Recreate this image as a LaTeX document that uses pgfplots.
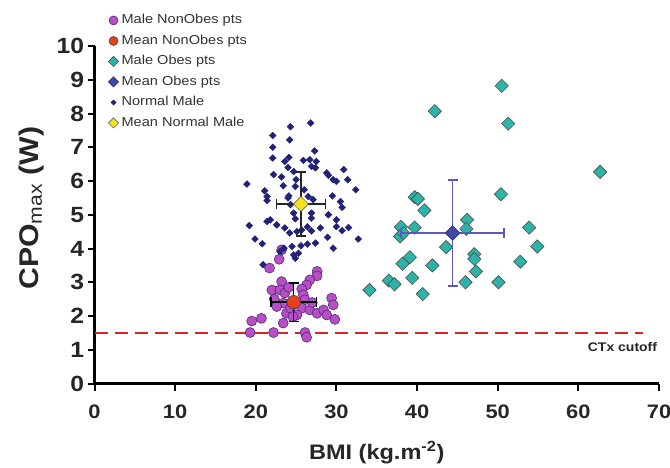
\documentclass[border=0pt]{standalone}
\usepackage{fontspec}
\setmainfont{Liberation Sans}[FakeStretch=1.12]
\usepackage{pgfplots}
\pgfplotsset{compat=1.18}
\definecolor{cpurple}{HTML}{B84EC2}
\definecolor{cpurpleedge}{HTML}{4E2A86}
\definecolor{cred}{HTML}{E8401E}
\definecolor{cteal}{HTML}{2DB4A8}
\definecolor{cblue}{HTML}{3F48A6}
\definecolor{cnavy}{HTML}{22227A}
\definecolor{cyellow}{HTML}{F6E21C}
\definecolor{cerr}{HTML}{5B5BB5}
\definecolor{cdash}{HTML}{E02424}
\definecolor{ctext}{HTML}{333333}
\begin{document}
\begin{tikzpicture}
\begin{axis}[
  at={(94.5pt,83.5pt)}, anchor=south west,
  scale only axis, width=564.5pt, height=337.5pt,
  xmin=0, xmax=70, ymin=0, ymax=10,
  axis lines*=left,
  axis line style={line width=2.5pt},
  tick align=outside, major tick length=7pt,
  tick style={line width=2pt, black},
  xtick={0,10,...,70}, ytick={0,1,...,10},
  /pgf/number format/assume math mode=true,
  xticklabel style={font=\bfseries\fontsize{19.5}{19.5}\selectfont, text=black!85, yshift=-11pt},
  yticklabel style={font=\bfseries\fontsize{22}{22}\selectfont, text=black!85},
  clip mode=individual,
  xlabel={BMI (kg.m\textsuperscript{-2})},
  ylabel={CPO\textsubscript{\mdseries max} (W)},
  every axis x label/.style={at={(axis description cs:0.5,-0.2044)}, anchor=center, font=\bfseries\fontsize{21}{21}\selectfont, text=black!85},
  every axis y label/.style={at={(axis description cs:-0.112,0.52)}, rotate=90, anchor=center, font=\bfseries\fontsize{27}{27}\selectfont, text=black!85},
  legend style={at={(axis description cs:0.019,1.10)}, anchor=north west, draw=none, fill=none,
    font=\fontsize{13}{13}\selectfont, text=ctext, row sep=8.5pt, column sep=3pt,
    nodes={inner sep=0pt, text height=9.5pt, text depth=2.5pt}},
  legend cell align=left,
  legend image code/.code={\draw[#1] plot coordinates {(0pt,0pt)};},
]
% CTx cutoff line
\addplot[forget plot, cdash, line width=2pt, dash pattern=on 13pt off 7pt] coordinates {(0,1.5) (68,1.5)};

% Male NonObes pts
\addplot[only marks, mark=*, mark size=5pt, mark options={fill=cpurple, draw=cpurpleedge, line width=0.6pt},
  legend image post style={mark size=4.5pt}] coordinates {
(23.2,3.96) (22.9,3.68) (21.7,3.42) (27.6,3.32) (27.6,3.19) (26.7,3.07) (23.2,3.02)
(26.3,2.92) (22.0,2.77) (23.0,2.77) (25.7,2.80) (23.6,2.68) (25.9,2.63) (22.3,2.50)
(23.4,2.38) (26.1,2.48) (29.4,2.53) (29.6,2.33) (22.6,2.28) (25.7,2.23) (26.7,2.18)
(27.6,2.08) (28.4,2.18) (28.8,2.03) (25.1,2.03) (23.8,2.08) (29.8,1.90) (23.4,1.79)
(20.7,1.93) (19.5,1.85) (19.3,1.51) (22.2,1.51) (26.1,1.51) (26.3,1.37) (24.3,2.23)
(24.1,2.85) (27.0,2.40) (24.6,1.98)
};
\addlegendentry{Male NonObes pts}

% Mean NonObes pts
\addplot[only marks, mark=*, mark size=6.7pt, mark options={fill=cred, draw=black!75, line width=0.6pt},
  legend image post style={mark size=4.5pt},
  error bars/.cd, x dir=both, x explicit, y dir=both, y explicit,
  error bar style={line width=1.5pt, black},
  error mark options={rotate=90, mark size=5pt, line width=1.5pt, black}]
  coordinates {(24.7,2.41) +- (2.8,0.57)};
\addlegendentry{Mean NonObes pts}

% Male Obes pts
\addplot[only marks, mark=square*, mark size=4.7pt, mark options={rotate=45, fill=cteal, draw=black!70, line width=0.6pt},
  legend image post style={mark size=3.6pt}] coordinates {
(42.2,8.07) (50.5,8.82) (51.3,7.70) (62.7,6.27) (50.4,5.61) (39.7,5.52) (40.1,5.47)
(40.9,5.13) (46.2,4.85) (46.1,4.58) (38.0,4.64) (37.9,4.36) (39.7,4.62) (38.3,4.46)
(53.9,4.62) (54.9,4.06) (43.6,4.04) (52.8,3.61) (47.1,3.83) (47.1,3.69) (39.1,3.74)
(38.2,3.55) (41.9,3.50) (47.3,3.32) (39.4,3.13) (36.5,3.05) (37.2,2.94) (46.0,3.00)
(50.1,3.00) (34.1,2.77) (40.7,2.65)
};
\addlegendentry{Male Obes pts}

% Mean Obes pts
\addplot[only marks, mark=square*, mark size=5.2pt, mark options={rotate=45, fill=cblue, draw=cblue!70!black, line width=0.6pt},
  legend image post style={mark size=3.6pt},
  error bars/.cd, x dir=both, x explicit, y dir=both, y explicit,
  error bar style={line width=1.8pt, cerr},
  error mark options={rotate=90, mark size=5pt, line width=1.8pt, cerr}]
  coordinates {(44.4,4.46) +- (6.4,1.56)};
\addlegendentry{Mean Obes pts}

% Normal Male
\addplot[only marks, mark=square*, mark size=2.4pt, mark options={rotate=45, fill=cnavy, draw=cnavy},
  legend image post style={mark size=1.8pt}] coordinates {
(24.3,7.61) (26.8,7.72) (22.1,7.35) (24.2,7.22) (22.1,7.00) (27.3,6.89) (22.1,6.68)
(24.1,6.70) (23.6,6.58) (25.9,6.61) (26.7,6.63) (27.5,6.58) (26.9,6.43) (27.4,6.39)
(24.0,6.40) (24.7,6.28) (30.9,6.34) (28.8,6.24) (29.0,6.17) (22.2,6.19) (23.2,6.12)
(25.0,6.04) (29.6,6.04) (30.0,5.99) (31.4,6.04) (18.9,5.91) (23.4,5.86) (24.9,5.84)
(21.1,5.71) (26.0,5.74) (29.5,5.56) (32.4,5.74) (21.4,5.54) (24.1,5.56) (26.5,5.54)
(21.4,5.42) (24.0,5.50) (24.3,5.30) (27.1,5.45) (30.5,5.39) (30.7,5.22) (29.0,5.00)
(26.9,5.05) (24.7,5.05) (26.9,4.90) (24.9,4.88) (21.8,4.85) (21.4,4.80) (22.6,4.70)
(19.2,4.68) (30.0,4.85) (30.0,4.65) (28.0,4.61) (31.5,4.62) (30.7,4.53) (23.6,4.61)
(25.7,4.55) (26.4,4.64) (24.2,4.46) (25.1,4.50) (26.9,4.52) (28.9,4.33) (19.9,4.28)
(20.8,4.14) (32.7,4.28) (24.5,4.06) (25.6,4.08) (26.4,4.13) (27.4,4.16) (23.5,4.01)
(29.6,4.01) (24.7,3.81) (25.3,3.86) (24.9,3.71) (20.9,3.52) (23.0,3.91)
};
\addlegendentry{Normal Male}

% Mean Normal Male
\addplot[only marks, mark=square*, mark size=5.3pt, mark options={rotate=45, fill=cyellow, draw=black!60, line width=0.6pt},
  legend image post style={mark size=3.6pt},
  error bars/.cd, x dir=both, x explicit, y dir=both, y explicit,
  error bar style={line width=1.5pt, black!85},
  error mark options={rotate=90, mark size=5pt, line width=1.5pt, black!85}]
  coordinates {(25.6,5.32) +- (3.05,0.95)};
\addlegendentry{Mean Normal Male}

\node[anchor=east, font=\bfseries\fontsize{12.5}{12.5}\selectfont, text=black!85] at (axis cs:70.2,1.09) {CTx cutoff};
\end{axis}
\pgfresetboundingbox
\path[use as bounding box] (0,0) rectangle (670pt,467pt);
\end{tikzpicture}
\end{document}
